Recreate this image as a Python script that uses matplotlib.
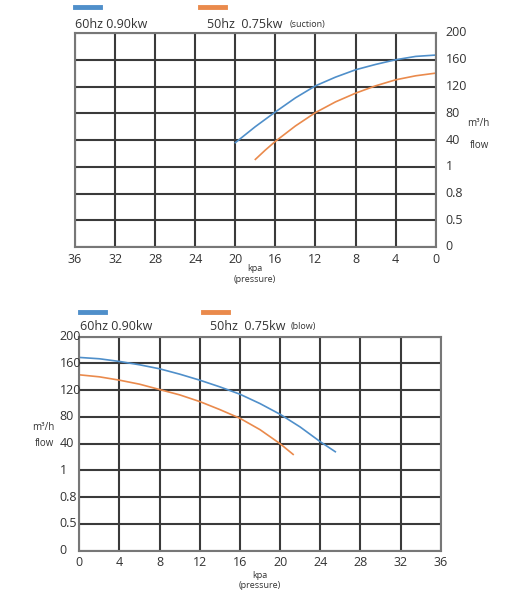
import matplotlib
matplotlib.use("Agg")
import matplotlib.pyplot as plt

plt.rcParams['font.family'] = ['Open Sans', 'DejaVu Sans']

# y axis is a position scale: 0..8, labels as printed on the chart
y_labels = ['0', '0.5', '0.8', '1', '40', '80', '120', '160', '200']
x_ticks = [0, 4, 8, 12, 16, 20, 24, 28, 32, 36]

# suction curves (kPa, m3/h)
suc_60_kpa = [20, 18, 16, 14, 12, 10, 8, 6, 4, 2, 0]
suc_60_flow = [36, 60, 82, 103, 121, 134, 145, 153, 160, 165, 167]
suc_50_kpa = [18, 17, 16, 14, 12, 10, 8, 6, 4, 2, 0]
suc_50_flow = [11, 25, 38, 61, 81, 97, 110, 121, 130, 136, 140]

# blow curves
blow_60_kpa = [0, 2, 4, 6, 8, 10, 12, 14, 16, 18, 20, 22, 24, 25.5]
blow_60_flow = [169, 167, 163, 158, 152, 144, 135, 125, 114, 100, 84, 65, 43, 28]
blow_50_kpa = [0, 2, 4, 6, 8, 10, 12, 14, 16, 18, 20, 21.3]
blow_50_flow = [143, 140, 135, 129, 121, 113, 103, 91, 78, 61, 40, 24]

BLUE = '#4f8fca'
ORANGE = '#ea8a4c'
GRID = '#3a3a3a'
TXT = '#333333'

W, H = 514, 600


def pos(flow):
    # 40 -> 4, 80 -> 5 ... 200 -> 8
    return [f / 40.0 + 3 for f in flow]


def px_axes(fig, left, top, right, bottom):
    return fig.add_axes([left / W, 1 - bottom / H, (right - left) / W, (bottom - top) / H])


def setup(ax, inverted):
    ax.set_ylim(0, 8)
    if inverted:
        ax.set_xlim(36, 0)
    else:
        ax.set_xlim(0, 36)
    ax.set_xticks(x_ticks)
    ax.set_yticks(range(9))
    ax.grid(True, color=GRID, linewidth=1.5)
    ax.set_axisbelow(True)
    for s in ax.spines.values():
        s.set_color('#777777')
        s.set_linewidth(1.5)
    ax.tick_params(length=0, labelsize=9, colors=TXT, pad=4)
    ax.set_yticklabels([])
    ax.set_xticklabels([str(t) for t in x_ticks])


def legend_row(fig, y_bar, y_txt, x1, x2, tag, tag_x):
    fig.add_artist(plt.Line2D([x1 / W, (x1 + 25) / W], [1 - y_bar / H] * 2, color=BLUE, lw=3.5))
    fig.add_artist(plt.Line2D([x2 / W, (x2 + 25) / W], [1 - y_bar / H] * 2, color=ORANGE, lw=3.5))
    fig.text(x1 / W, 1 - y_txt / H, '60hz 0.90kw', fontsize=9, color=TXT, va='center')
    fig.text((x2 + 7) / W, 1 - y_txt / H, '50hz  0.75kw', fontsize=9, color=TXT, va='center')
    fig.text(tag_x / W, 1 - y_txt / H, tag, fontsize=6.5, color=TXT, va='center')


fig = plt.figure(figsize=(W / 100, H / 100), dpi=100)

# suction chart
ax1 = px_axes(fig, 75, 33, 435.7, 247)
setup(ax1, True)
ax1.plot(suc_60_kpa, pos(suc_60_flow), color=BLUE, lw=1.2)
ax1.plot(suc_50_kpa, pos(suc_50_flow), color=ORANGE, lw=1.2)
for i, lab in enumerate(y_labels):
    ax1.text(1.027, i / 8, lab, transform=ax1.transAxes, fontsize=9, color=TXT,
             ha='left', va='center')
fig.text(478 / W, 1 - 124 / H, 'm³/h', fontsize=7, color=TXT, ha='center', va='center')
fig.text(479 / W, 1 - 145 / H, 'flow', fontsize=7, color=TXT, ha='center', va='center')
fig.text(255 / W, 1 - 269 / H, 'kpa', fontsize=6.5, color=TXT, ha='center', va='center')
fig.text(255 / W, 1 - 280 / H, '(pressure)', fontsize=6.5, color=TXT, ha='center', va='center')
legend_row(fig, 7, 24, 75, 200, '(suction)', 290)

# blow chart
ax2 = px_axes(fig, 79.3, 336.7, 440.7, 550.7)
setup(ax2, False)
ax2.plot(blow_60_kpa, pos(blow_60_flow), color=BLUE, lw=1.2)
ax2.plot(blow_50_kpa, pos(blow_50_flow), color=ORANGE, lw=1.2)
for i, lab in enumerate(y_labels):
    ax2.text(-0.055, i / 8, lab, transform=ax2.transAxes, fontsize=9, color=TXT,
             ha='left', va='center')
fig.text(43 / W, 1 - 428 / H, 'm³/h', fontsize=7, color=TXT, ha='center', va='center')
fig.text(44 / W, 1 - 443 / H, 'flow', fontsize=7, color=TXT, ha='center', va='center')
fig.text(260 / W, 1 - 575 / H, 'kpa', fontsize=6.5, color=TXT, ha='center', va='center')
fig.text(260 / W, 1 - 586 / H, '(pressure)', fontsize=6.5, color=TXT, ha='center', va='center')
legend_row(fig, 312, 327, 80, 203, '(blow)', 291)

fig.savefig('out.png', dpi=100, facecolor='white')
